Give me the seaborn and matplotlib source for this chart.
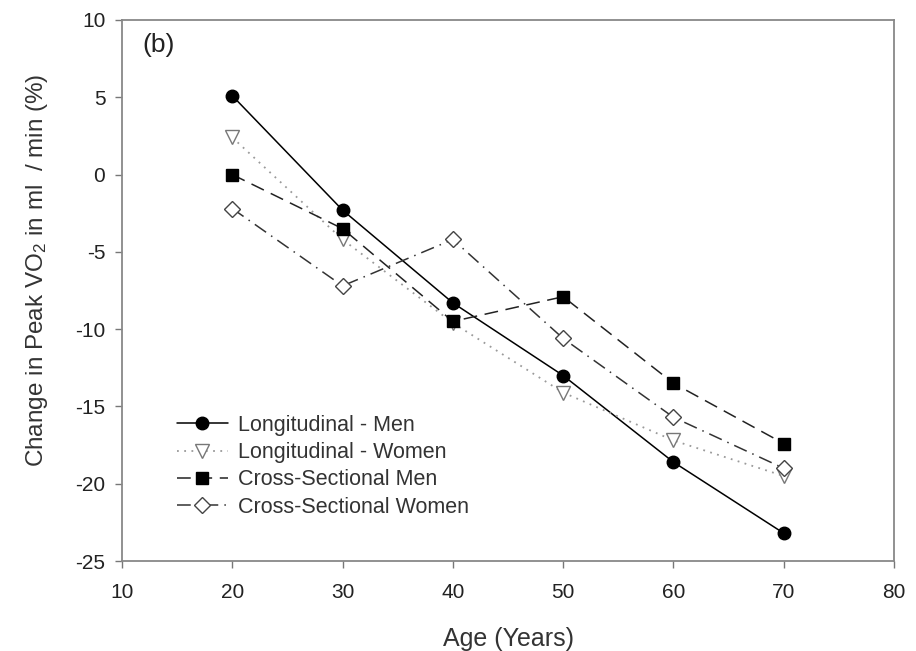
import matplotlib
matplotlib.use("Agg")
import matplotlib.pyplot as plt
import seaborn as sns
import pandas as pd

ages = [20, 30, 40, 50, 60, 70]
long_men = [5.1, -2.3, -8.3, -13.0, -18.6, -23.2]
long_women = [2.4, -4.2, -9.6, -14.1, -17.2, -19.5]
cross_men = [0.0, -3.5, -9.5, -7.9, -13.5, -17.4]
cross_women = [-2.2, -7.2, -4.2, -10.6, -15.7, -19.0]

labels = ["Longitudinal - Men", "Longitudinal - Women",
          "Cross-Sectional Men", "Cross-Sectional Women"]
x_ticks = [10, 20, 30, 40, 50, 60, 70, 80]
y_ticks = [-25, -20, -15, -10, -5, 0, 5, 10]

sns.set_theme(style="white")
plt.rcParams["font.family"] = ["Liberation Sans", "DejaVu Sans"]
plt.rcParams["axes.unicode_minus"] = False
plt.rcParams["mathtext.fontset"] = "custom"
plt.rcParams["mathtext.rm"] = "Liberation Sans"
plt.rcParams["mathtext.it"] = "Liberation Sans:italic"

fig = plt.figure(figsize=(9.16, 6.51), dpi=100)
ax = fig.add_axes([0.1332, 0.1382, 0.8428, 0.8311])

styles = [
    dict(color="black", linestyle="-", marker="o", mfc="black", mec="black", ms=9, lw=1.1),
    dict(color="#9a9a9a", linestyle=(0, (1, 3)), marker="v", mfc="white", mec="#777777", ms=10, lw=1.3),
    dict(color="#222222", linestyle=(0, (9, 5)), marker="s", mfc="black", mec="black", ms=8.2, lw=1.1),
    dict(color="#333333", linestyle=(0, (9, 4, 1, 4)), marker="D", mfc="white", mec="#444444", ms=8.5, lw=1.1),
]

series = [long_men, long_women, cross_men, cross_women]
for vals, lab, st in zip(series, labels, styles):
    df = pd.DataFrame({"age": ages, "val": vals})
    sns.lineplot(data=df, x="age", y="val", ax=ax, label=lab,
                 color=st["color"], linestyle=st["linestyle"], lw=st["lw"],
                 marker=st["marker"], markerfacecolor=st["mfc"],
                 markeredgecolor=st["mec"], markersize=st["ms"],
                 markeredgewidth=1.0)

ax.set_xlim(10, 80)
ax.set_ylim(-25, 10)
ax.set_xticks(x_ticks)
ax.set_yticks(y_ticks)
ax.tick_params(axis="both", which="both", direction="out", length=5, width=1,
               color="#777777", labelsize=15, labelcolor="#222222",
               bottom=True, left=True, top=False, right=False, pad=7)
ax.tick_params(axis="x", pad=10.5)
for sp in ax.spines.values():
    sp.set_color("#888888")
    sp.set_linewidth(1.3)

ax.set_xlabel("Age (Years)", fontsize=18, color="#333333", labelpad=18)
ax.set_ylabel("Change in Peak VO$_2$ in ml  / min (%)", fontsize=17.5,
              color="#333333", labelpad=18, y=0.538)

ax.text(0.026, 0.976, "(b)", transform=ax.transAxes, fontsize=19,
        color="#222222", va="top", ha="left")

leg = ax.legend(loc="upper left", bbox_to_anchor=(0.0596, 0.286), frameon=False,
                fontsize=15.5, handlelength=2.37, handletextpad=0.47,
                labelspacing=0.29, borderaxespad=0)
for t in leg.get_texts():
    t.set_color("#333333")

fig.savefig("out.png", dpi=100)
